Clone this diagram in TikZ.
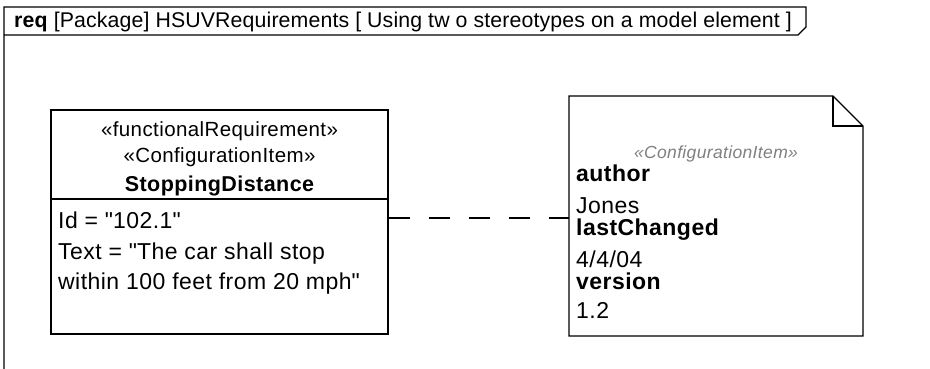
\documentclass[tikz,border=0pt]{standalone}
\usepackage{fontspec}
\setmainfont{Liberation Sans}[LetterSpace=2]
\newfontfamily\hdrfont{Liberation Sans}[LetterSpace=0.6]
\begin{document}
\begin{tikzpicture}[x=1pt,y=-1pt,
  line/.style={line width=1.4pt},
  txt/.style={inner sep=0pt,anchor=base,font=\fontsize{20.5}{25}\selectfont},
  nametxt/.style={inner sep=0pt,anchor=base,font=\fontsize{21.5}{25}\selectfont\bfseries},
  ltxt/.style={inner sep=0pt,anchor=base west,font=\fontsize{23}{27}\selectfont},
  stereo/.style={inner sep=0pt,anchor=base,font=\fontsize{17.5}{20}\selectfont\itshape,text=black!50},
  hdr/.style={inner sep=0pt,anchor=base west,font=\hdrfont\fontsize{21.3}{24}\selectfont}]
\useasboundingbox (0,0) rectangle (930,369);
% frame
\coordinate (fbl) at (4,369);
\coordinate (ftl) at (4,7);
\coordinate (ftr) at (806,7);
\coordinate (fc1) at (806,27);
\coordinate (fc2) at (798,35);
\coordinate (fhl) at (4,35);
\draw[line] (fbl) -- (ftl) -- (ftr) -- (fc1) -- (fc2) -- (fhl);
\node[hdr] (title) at (14,28) {\textbf{req} [Package] HSUVRequirements [ Using tw o stereotypes on a model element ]};
% requirement box
\node[line,draw,rectangle,minimum width=337pt,minimum height=224pt,inner sep=0pt] (reqbox) at (219.5,222) {};
\draw[line] (reqbox.west |- 0,199) -- (reqbox.east |- 0,199);
\node[txt] (st1) at (219.5,136) {«functionalRequirement»};
\node[txt] (st2) at (219.5,162) {«ConfigurationItem»};
\node[nametxt] (nm) at (219.5,191) {StoppingDistance};
\node[ltxt] (a1) at (58,228) {Id = \textquotedbl 102.1\textquotedbl};
\node[ltxt] (a2) at (58,259) {Text = \textquotedbl The car shall stop};
\node[ltxt] (a3) at (58,289) {within 100 feet from 20 mph\textquotedbl};
% note
\coordinate (n1) at (569,96);
\coordinate (n2) at (833,96);
\coordinate (n3) at (863,126);
\coordinate (n4) at (863,336);
\coordinate (n5) at (569,336);
\coordinate (n6) at (833,126);
\draw[line,fill=white] (n1) -- (n2) -- (n3) -- (n4) -- (n5) -- cycle;
\draw[line] (n2) -- (n6) -- (n3);
\node[inner sep=0pt,minimum width=294pt,minimum height=240pt] (note) at (716,216) {};
\node[stereo] (ns) at (716,158) {«ConfigurationItem»};
\node[ltxt] (t1) at (576,181) {\textbf{author}};
\node[ltxt] (t2) at (576,213) {Jones};
\node[ltxt] (t3) at (576,235) {\textbf{lastChanged}};
\node[ltxt] (t4) at (576,267) {4/4/04};
\node[ltxt] (t5) at (576,289) {\textbf{version}};
\node[ltxt] (t6) at (576,318) {1.2};
% anchor
\draw[line,dash pattern=on 21.5pt off 18.5pt] (reqbox.east |- 0,218) -- (note.west |- 0,218);
\end{tikzpicture}
\end{document}
